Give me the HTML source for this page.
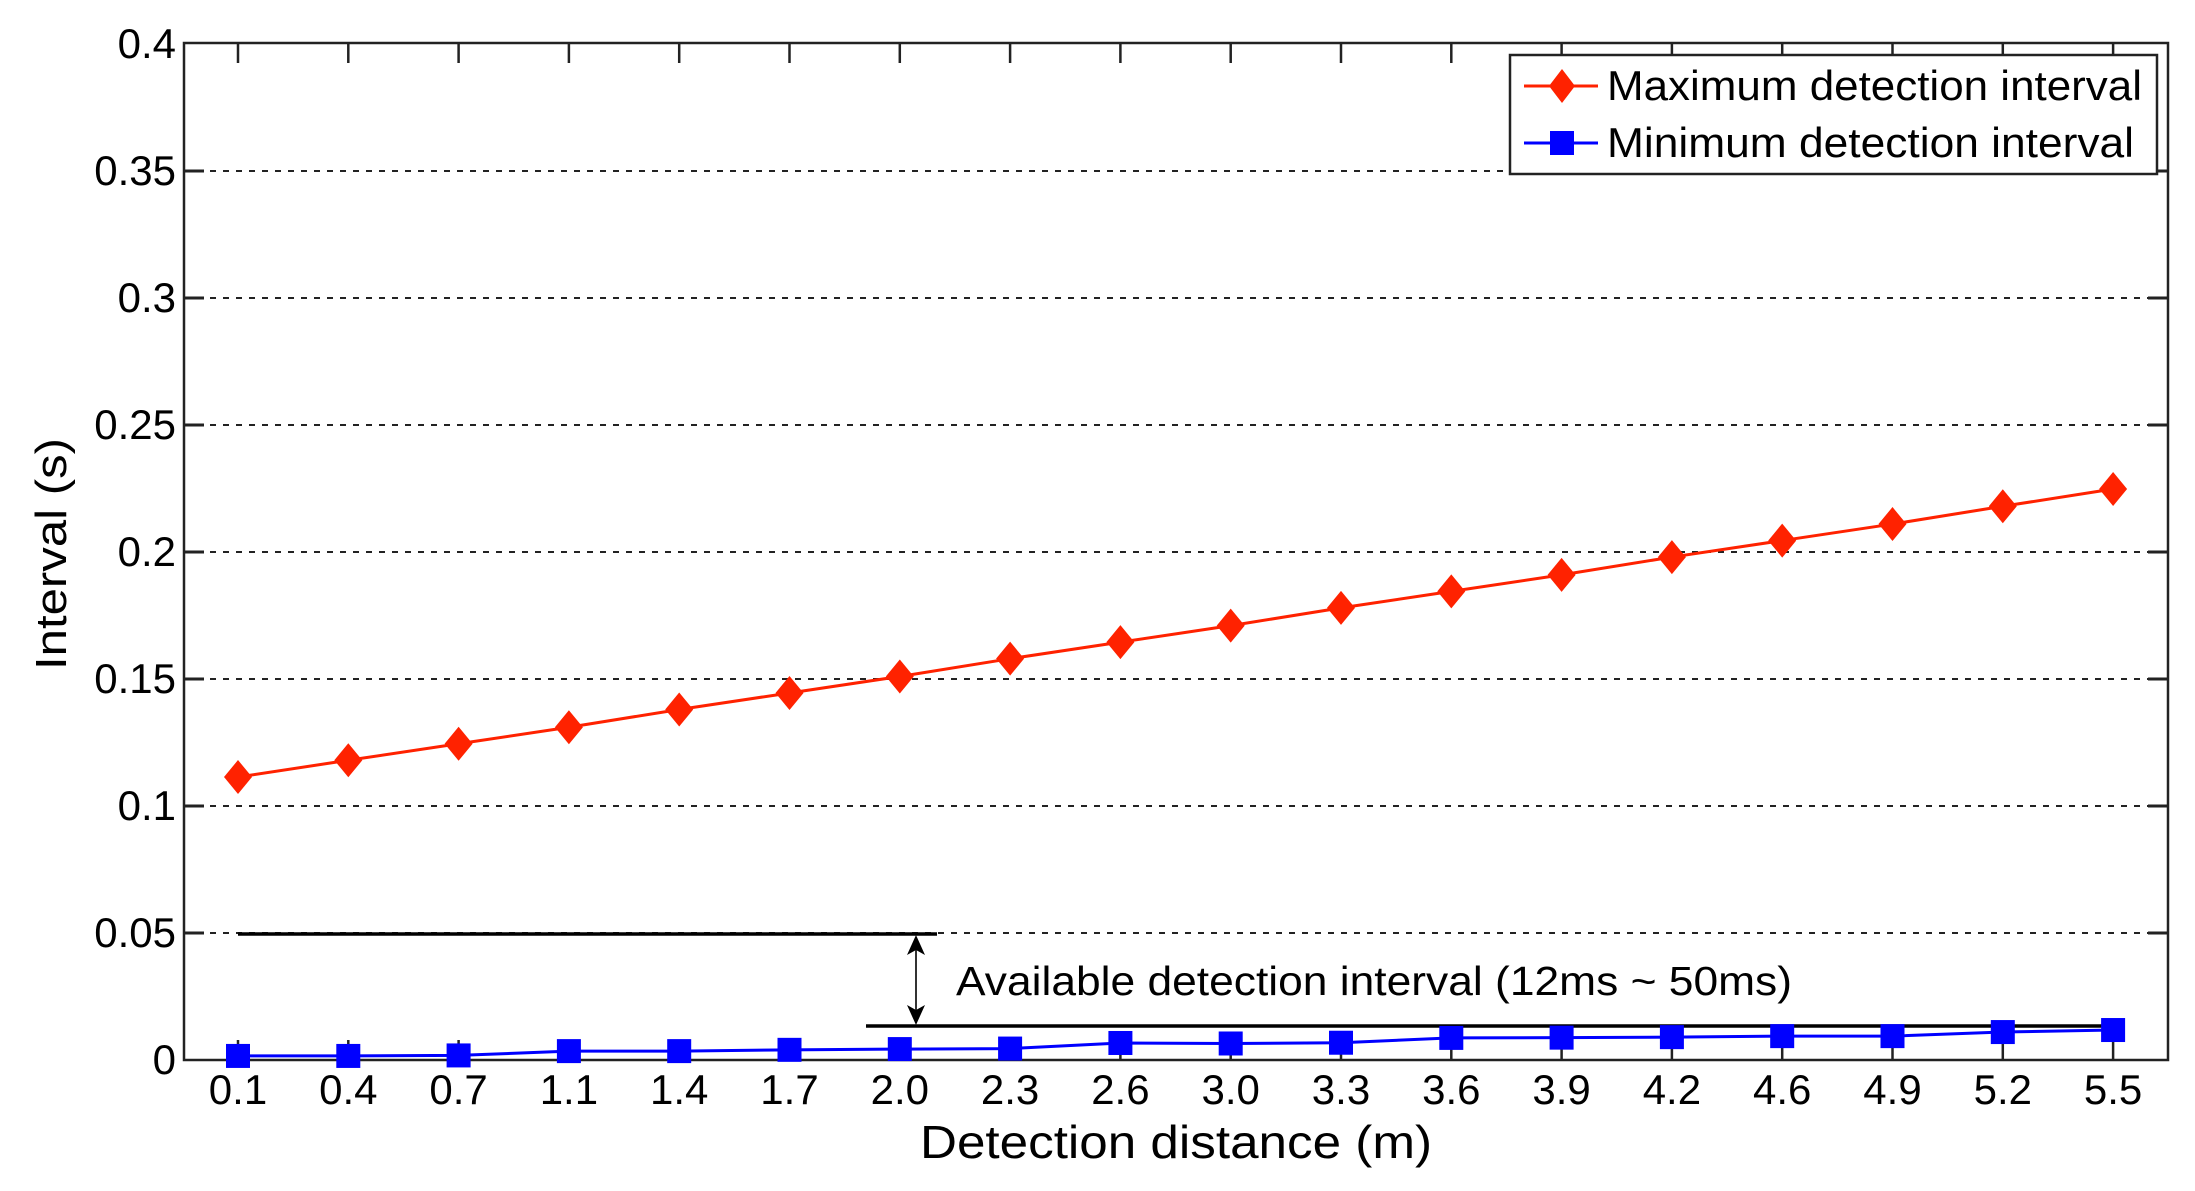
<!DOCTYPE html>
<html><head><meta charset="utf-8"><style>html,body{margin:0;padding:0;background:#fff}svg{display:block}</style></head>
<body>
<svg width="2195" height="1191" viewBox="0 0 2195 1191" xmlns="http://www.w3.org/2000/svg" font-family="Liberation Sans, Arial, sans-serif">
<rect width="2195" height="1191" fill="#fff"/>
<g id="grid" stroke="#222" stroke-width="2" stroke-dasharray="6,7">
<line x1="184" y1="171" x2="2168" y2="171"/>
<line x1="184" y1="298" x2="2168" y2="298"/>
<line x1="184" y1="425" x2="2168" y2="425"/>
<line x1="184" y1="552" x2="2168" y2="552"/>
<line x1="184" y1="679" x2="2168" y2="679"/>
<line x1="184" y1="806" x2="2168" y2="806"/>
<line x1="184" y1="933" x2="2168" y2="933"/>
</g>
<g stroke="#222" stroke-width="2.5" fill="none">
<rect x="184" y="43" width="1984" height="1017"/>
</g>
<g stroke="#222" stroke-width="2.5" id="ticks"></g>
<g font-size="42" text-anchor="end" fill="#000">
<text x="176" y="58">0.4</text>
<text x="176" y="185">0.35</text>
<text x="176" y="312">0.3</text>
<text x="176" y="439">0.25</text>
<text x="176" y="566">0.2</text>
<text x="176" y="693">0.15</text>
<text x="176" y="820">0.1</text>
<text x="176" y="947">0.05</text>
<text x="176" y="1074">0</text>
</g>
<g id="xl" font-size="42" text-anchor="middle" fill="#000"></g>
<text x="1176" y="1158" font-size="46" text-anchor="middle" textLength="512" lengthAdjust="spacingAndGlyphs">Detection distance (m)</text>
<text transform="translate(66,554) rotate(-90)" font-size="44" text-anchor="middle" textLength="232" lengthAdjust="spacingAndGlyphs">Interval (s)</text>
<g stroke="#000" stroke-width="3.5">
<line x1="238" y1="934" x2="937" y2="934"/>
<line x1="866" y1="1026" x2="2115" y2="1026"/>
</g>
<line x1="916" y1="945" x2="916" y2="1015" stroke="#333" stroke-width="2"/>
<polygon points="916,935 907,955 916,950 925,955" fill="#000"/>
<polygon points="916,1025 907,1005 916,1010 925,1005" fill="#000"/>
<text x="956" y="995" font-size="41" textLength="836" lengthAdjust="spacingAndGlyphs">Available detection interval (12ms ~ 50ms)</text>
<g id="series"></g>
<rect x="1510" y="55" width="647" height="119" fill="#fff" stroke="#222" stroke-width="2.5"/>
<line x1="1524" y1="86" x2="1598" y2="86" stroke="#ff2200" stroke-width="3"/>
<polygon points="1562,69 1575,86 1562,103 1549,86" fill="#ff2200"/>
<line x1="1524" y1="143" x2="1598" y2="143" stroke="#0000ff" stroke-width="3"/>
<rect x="1550" y="131" width="24" height="24" fill="#0000ff"/>
<text x="1607" y="100" font-size="42" textLength="535" lengthAdjust="spacingAndGlyphs">Maximum detection interval</text>
<text x="1607" y="157" font-size="42" textLength="527" lengthAdjust="spacingAndGlyphs">Minimum detection interval</text>
</svg>
<script>
var NS="http://www.w3.org/2000/svg";
function el(n,a,p){var e=document.createElementNS(NS,n);for(var k in a)e.setAttribute(k,a[k]);p.appendChild(e);return e;}
var labels=["0.1","0.4","0.7","1.1","1.4","1.7","2.0","2.3","2.6","3.0","3.3","3.6","3.9","4.2","4.6","4.9","5.2","5.5"];
var red=[0.1114,0.118,0.1245,0.131,0.138,0.1445,0.151,0.158,0.1645,0.171,0.178,0.1845,0.191,0.198,0.2045,0.211,0.218,0.2248];
var blue=[0.0016,0.0016,0.0018,0.0035,0.0035,0.004,0.0043,0.0045,0.0067,0.0065,0.0068,0.0087,0.0088,0.009,0.0094,0.0094,0.011,0.0118];
var tk=document.getElementById("ticks"),xl=document.getElementById("xl"),s=document.getElementById("series");
function X(i){return 238+i*110.3;}function Y(v){return 1060-v*2540;}
for(var i=0;i<18;i++){var x=X(i);
el("line",{x1:x,y1:1060,x2:x,y2:1040},tk);el("line",{x1:x,y1:43,x2:x,y2:63},tk);
for(var j=1;j<8;j++){var y=1060-j*127;el("line",{x1:184,y1:y,x2:204,y2:y},tk);el("line",{x1:2148,y1:y,x2:2168,y2:y},tk);}
var t=el("text",{x:x,y:1104},xl);t.textContent=labels[i];}
var pr="",pb="";for(i=0;i<18;i++){pr+=X(i)+","+Y(red[i])+" ";pb+=X(i)+","+Y(blue[i])+" ";}
el("polyline",{points:pr,fill:"none",stroke:"#ff2200","stroke-width":3},s);
el("polyline",{points:pb,fill:"none",stroke:"#0000ff","stroke-width":3},s);
for(i=0;i<18;i++){var x=X(i),y=Y(red[i]);
el("polygon",{points:x+","+(y-17)+" "+(x+14)+","+y+" "+x+","+(y+17)+" "+(x-14)+","+y,fill:"#ff2200"},s);
y=Y(blue[i]);el("rect",{x:x-12,y:y-12,width:24,height:24,fill:"#0000ff"},s);}
</script>
</body></html>
